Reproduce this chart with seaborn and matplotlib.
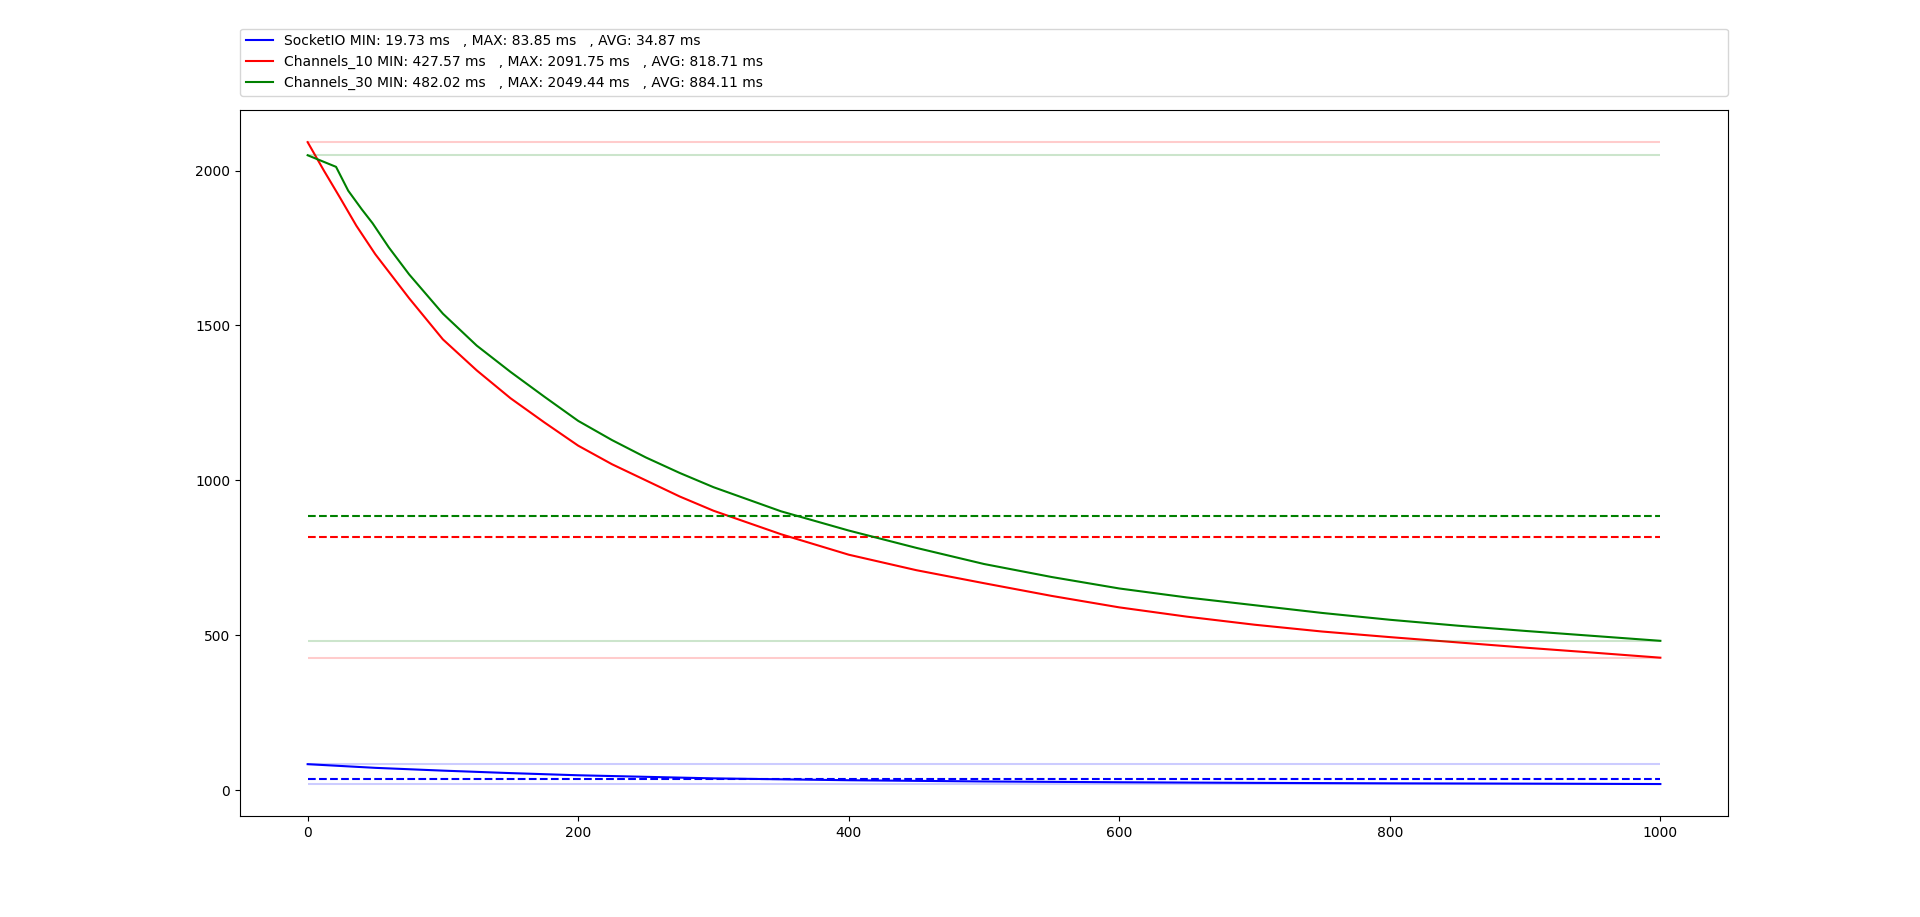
import numpy as np
import pandas as pd
import matplotlib
matplotlib.use("Agg")
import matplotlib.pyplot as plt
import seaborn as sns

# values (request index vs latency in ms)
socketio_x = [0, 50, 100, 150, 200, 250, 300, 350, 400, 500, 600, 700, 800, 900, 1000]
socketio_ms = [83.85, 72, 63, 55, 48, 43, 38, 35, 32, 28, 25.5, 23.5, 22, 21, 19.73]

ch10_x = [0, 12, 24, 36, 50, 75, 100, 125, 150, 175, 200, 225, 250, 275, 300,
          350, 400, 450, 500, 550, 600, 650, 700, 750, 800, 850, 900, 950, 1000]
ch10_ms = [2091.75, 2000, 1912, 1822, 1730, 1588, 1455, 1355, 1265, 1187, 1112, 1052,
           1000, 948, 902, 826, 760, 710, 668, 627, 590, 560, 534, 512, 494, 477,
           460, 444, 427.57]

ch30_x = [0, 21, 30, 40, 48, 60, 75, 100, 125, 150, 175, 200, 225, 250, 275, 300,
          350, 400, 450, 500, 550, 600, 650, 700, 750, 800, 850, 900, 950, 1000]
ch30_ms = [2049.44, 2012, 1935, 1875, 1830, 1752, 1665, 1538, 1435, 1350, 1270, 1192,
           1130, 1074, 1024, 978, 900, 838, 782, 730, 688, 651, 622, 597, 572, 550, 531,
           514, 498, 482.02]

series = [
    ("SocketIO", socketio_x, socketio_ms, "blue", 19.73, 83.85, 34.87),
    ("Channels_10", ch10_x, ch10_ms, "red", 427.57, 2091.75, 818.71),
    ("Channels_30", ch30_x, ch30_ms, "green", 482.02, 2049.44, 884.11),
]

fig, ax = plt.subplots(figsize=(19.2, 9.17), dpi=100)

for name, xs, ys, color, mn, mx, avg in series:
    df = pd.DataFrame({"x": xs, "ms": ys})
    label = "%s MIN: %.2f ms   , MAX: %.2f ms   , AVG: %.2f ms" % (name, mn, mx, avg)
    sns.lineplot(data=df, x="x", y="ms", color=color, label=label, ax=ax)
    # min / max as faint lines, average dashed
    ax.hlines([mn, mx], xs[0], xs[-1], colors=color, alpha=0.2, linewidth=1.5)
    ax.hlines(avg, xs[0], xs[-1], colors=color, linestyles="--", linewidth=1.5)

ax.set_xlabel("")
ax.set_ylabel("")
ax.legend(bbox_to_anchor=(0., 1.02, 1., .102), loc="lower left", ncol=1,
          mode="expand", borderaxespad=0.)

plt.savefig("out.png", dpi=100)
